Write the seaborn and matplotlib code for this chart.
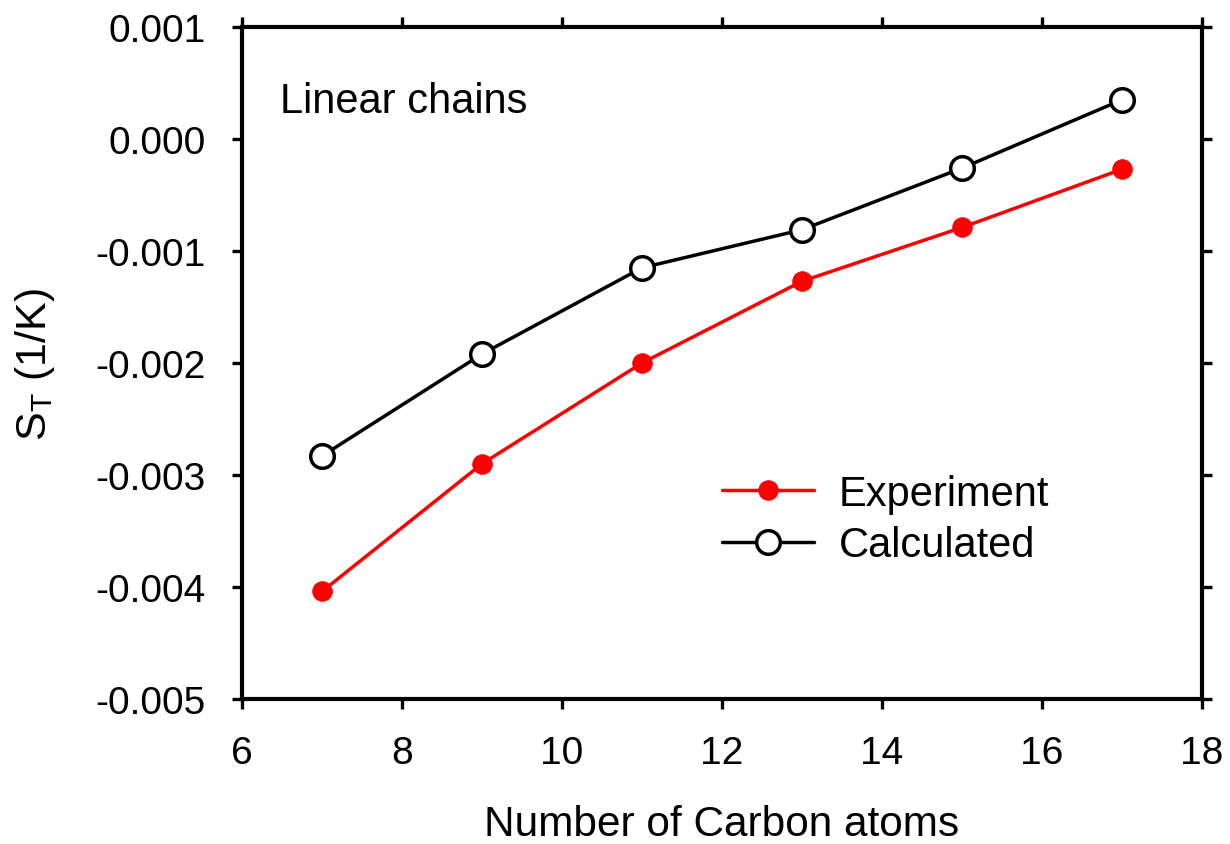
import matplotlib
matplotlib.use("Agg")
import matplotlib.pyplot as plt
import pandas as pd
import seaborn as sns

# values
carbon_atoms = [7, 9, 11, 13, 15, 17]
experiment = [-0.00404, -0.00290, -0.00200, -0.00127, -0.00079, -0.00027]
calculated = [-0.00283, -0.00192, -0.00115, -0.00081, -0.00026, 0.00035]
x_ticks = [6, 8, 10, 12, 14, 16, 18]
y_ticks = [-0.005, -0.004, -0.003, -0.002, -0.001, 0.000, 0.001]
y_tick_labels = ["-0.005", "-0.004", "-0.003", "-0.002", "-0.001", "0.000", "0.001"]

sns.set_style("white")
plt.rcParams["font.family"] = ["Liberation Sans", "DejaVu Sans"]
plt.rcParams["mathtext.fontset"] = "custom"
plt.rcParams["mathtext.rm"] = "Liberation Sans"

df = pd.DataFrame({"n": carbon_atoms, "Experiment": experiment, "Calculated": calculated})

fig = plt.figure(figsize=(12.3, 8.45), dpi=100)
ax = fig.add_axes([242 / 1230, 1 - 700 / 845, 960 / 1230, 672 / 845])

sns.lineplot(data=df, x="n", y="Experiment", ax=ax, color="red", linewidth=2.5,
             marker="o", markersize=14, markerfacecolor="red", markeredgecolor="red",
             label="Experiment")
sns.lineplot(data=df, x="n", y="Calculated", ax=ax, color="black", linewidth=2.5,
             marker="o", markersize=17, markerfacecolor="white", markeredgecolor="black",
             markeredgewidth=2.5, label="Calculated")

ax.set_xlim(6, 18)
ax.set_ylim(-0.005, 0.001)
ax.set_xticks(x_ticks)
ax.set_yticks(y_ticks)
ax.set_yticklabels(y_tick_labels)

for sp in ax.spines.values():
    sp.set_visible(True)
    sp.set_color("black")
    sp.set_linewidth(3)

ax.tick_params(axis="both", which="both", direction="out", length=7, width=2.4,
               labelsize=28, color="black", labelcolor="black",
               top=True, right=True, bottom=True, left=True, pad=19)

ax.set_xlabel("Number of Carbon atoms", fontsize=30.5, labelpad=24, color="black")
ax.set_ylabel(r"S$_\mathregular{T}$ (1/K)", fontsize=31, labelpad=28, color="black")

ax.text(0.04, 0.89, "Linear chains", transform=ax.transAxes, fontsize=30,
        ha="left", va="center", color="black")

leg = ax.legend(loc="center left", bbox_to_anchor=(0.461, 0.267), frameon=False,
                fontsize=30, handlelength=2.2, handletextpad=0.6, labelspacing=0.27)
for t in leg.get_texts():
    t.set_color("black")

fig.savefig("out.png", dpi=100)
